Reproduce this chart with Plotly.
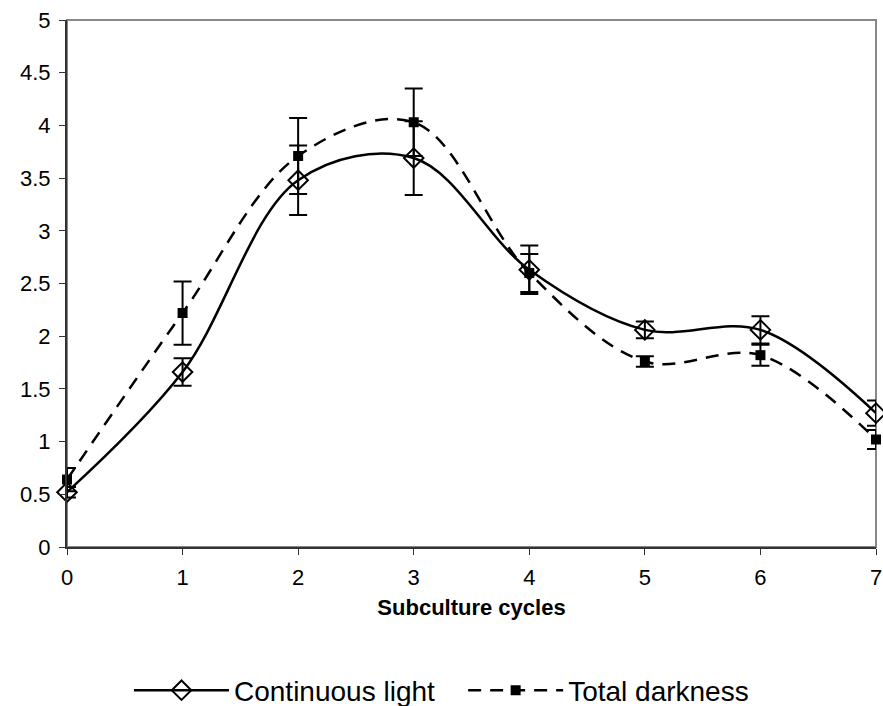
import plotly.graph_objects as go

cycles = [0, 1, 2, 3, 4, 5, 6, 7]
light = [0.52, 1.66, 3.48, 3.69, 2.63, 2.06, 2.06, 1.27]
light_err = [0.05, 0.13, 0.33, 0.35, 0.23, 0.08, 0.13, 0.12]
dark = [0.64, 2.22, 3.71, 4.03, 2.60, 1.76, 1.82, 1.02]
dark_err = [0.11, 0.30, 0.36, 0.32, 0.18, 0.05, 0.10, 0.09]
y_ticks = [0, 0.5, 1, 1.5, 2, 2.5, 3, 3.5, 4, 4.5, 5]

fig = go.Figure()
fig.add_trace(go.Scatter(
    x=cycles, y=light, name="Continuous light\u00a0\u00a0\u00a0",
    mode="lines+markers",
    line=dict(color="black", width=2.5, shape="spline", smoothing=1),
    marker=dict(symbol="diamond-open", size=15, color="black", line=dict(width=2)),
    error_y=dict(type="data", array=light_err, visible=True, color="black", thickness=2, width=9),
    cliponaxis=False,
))
fig.add_trace(go.Scatter(
    x=cycles, y=dark, name="Total darkness",
    mode="lines+markers",
    line=dict(color="black", width=2.5, shape="spline", smoothing=1, dash="13px,9px"),
    marker=dict(symbol="square", size=10, color="black"),
    error_y=dict(type="data", array=dark_err, visible=True, color="black", thickness=2, width=9),
    cliponaxis=False,
))

fig.add_shape(type="rect", xref="paper", yref="paper", x0=0, y0=0, x1=1, y1=1,
              line=dict(color="#888888", width=2), layer="below")

fig.update_layout(
    width=883, height=706,
    margin=dict(l=67, r=7, t=20, b=159),
    paper_bgcolor="white", plot_bgcolor="white",
    font=dict(family="Liberation Sans, Arial, sans-serif", size=22, color="black"),
    showlegend=True,
    legend=dict(orientation="h", xref="container", yref="container",
                x=0.5, xanchor="center", y=0.022, yanchor="middle",
                font=dict(size=28), itemwidth=95, traceorder="normal"),
    xaxis=dict(range=[0, 7], tickvals=cycles, showgrid=False, zeroline=False,
               showline=True, linecolor="#333333", linewidth=2, automargin=False,
               ticks="outside", ticklen=6, tickcolor="#333333", ticklabelstandoff=4,
               tickfont=dict(size=22),
               title=dict(text="<b>Subculture cycles</b>", font=dict(size=22), standoff=10)),
    yaxis=dict(range=[0, 5], tickvals=y_ticks, showgrid=False, zeroline=False,
               showline=True, linecolor="#333333", linewidth=2, automargin=False,
               ticks="outside", ticklen=6, tickcolor="#333333", ticklabelstandoff=4,
               tickfont=dict(size=22)),
)

fig.write_html("out.html")
